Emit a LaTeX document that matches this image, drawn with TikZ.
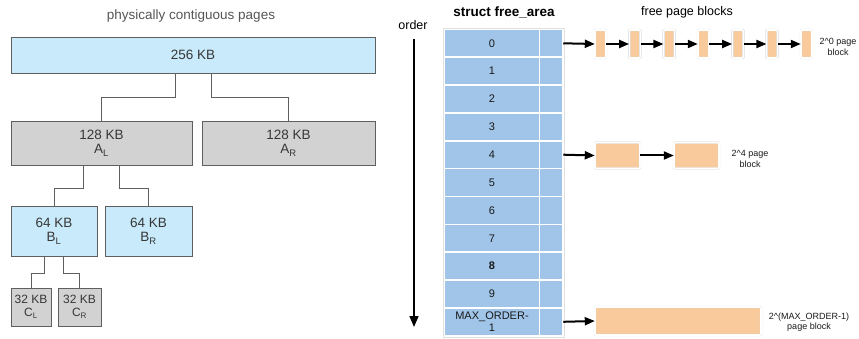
\documentclass[tikz,border=0pt]{standalone}
\usepackage{fontspec}
\setmainfont{Liberation Sans}
\usetikzlibrary{arrows.meta}
\definecolor{skyblue}{RGB}{200,234,250}
\definecolor{boxgray}{RGB}{210,210,210}
\definecolor{edgegray}{RGB}{95,95,95}
\definecolor{txtgray}{RGB}{55,55,55}
\definecolor{cellblue}{RGB}{160,197,232}
\definecolor{pageorange}{RGB}{249,203,156}
\begin{document}
\begin{tikzpicture}[x=1pt,y=-1pt,
    buddy/.style={draw=edgegray,line width=0.8pt,inner sep=0pt,align=center,text=txtgray,
      font=\fontsize{13.5}{14.5}\selectfont},
    link/.style={draw=edgegray,line width=0.8pt},
    cell/.style={fill=cellblue,draw=white,line width=1.5pt,inner sep=0pt,minimum height=27.85pt,
      align=center,text=black!90,font=\fontsize{11}{12.5}\selectfont},
    page/.style={fill=pageorange,draw=black!15,double=white,double distance=1.6pt,line width=0.4pt,
      rounded corners=1pt,inner sep=0pt},
    nextp/.style={line width=2pt,-{Triangle[length=10pt,width=8pt]}},
    note/.style={align=center,text=black!90,font=\fontsize{9}{10.5}\selectfont}]
    \useasboundingbox (0,0) rectangle (859,339);
    % buddy splitting
    \node[text=txtgray!85,font=\fontsize{13.5}{15}\selectfont] (pcp) at (191,16) {physically contiguous pages};
    \node[buddy,fill=skyblue,minimum width=364pt,minimum height=36pt] (root) at (193,55) {256 KB};
    \node[buddy,fill=boxgray,minimum width=181pt,minimum height=44pt] (AL) at (101.5,143) {128 KB\\A\textsubscript{L}};
    \node[buddy,fill=boxgray,minimum width=173pt,minimum height=44pt] (AR) at (288.5,143) {128 KB\\A\textsubscript{R}};
    \node[buddy,fill=skyblue,minimum width=86pt,minimum height=50pt] (BL) at (54,231) {64 KB\\B\textsubscript{L}};
    \node[buddy,fill=skyblue,minimum width=87pt,minimum height=50pt] (BR) at (148.5,231) {64 KB\\B\textsubscript{R}};
    \node[buddy,fill=boxgray,minimum width=40pt,minimum height=38pt,font=\fontsize{12}{13}\selectfont] (CL) at (31,307) {32 KB\\C\textsubscript{L}};
    \node[buddy,fill=boxgray,minimum width=43pt,minimum height=38pt,font=\fontsize{12}{13}\selectfont] (CR) at (79.5,307) {32 KB\\C\textsubscript{R}};
    \draw[link] ([xshift=-18pt]root.south) -- ++(0,24) -| (AL.north);
    \draw[link] ([xshift=18pt]root.south) -- ++(0,24) -| (AR.north);
    \draw[link] ([xshift=-18pt]AL.south) -- ++(0,23) -| (BL.north);
    \draw[link] ([xshift=18pt]AL.south) -- ++(0,23) -| (BR.north);
    \draw[link] ([xshift=-10pt]BL.south) -- ++(0,17) -| (CL.north);
    \draw[link] ([xshift=9pt]BL.south) -- ++(0,17) -| (CR.north);
    % free_area table
    \node[font=\bfseries\fontsize{13.5}{15}\selectfont] (sfa) at (504,12) {struct free\_area};
    \node[font=\fontsize{12.5}{14}\selectfont] (ord) at (413,25) {order};
    \coordinate (otop) at (414,39);
    \coordinate (obot) at (414,327);
    \draw[line width=1.6pt,-{Triangle[length=11pt,width=9pt]}] (otop) -- (obot);
    \foreach \lbl [count=\i from 0] in {0,1,2,3,4,5,6,7,\textbf{8},9,{MAX\_ORDER-\\1}} {
      \node[cell,minimum width=95pt] (k\i) at (492,43.3+27.85*\i) {\lbl};
      \node[cell,minimum width=23pt] (r\i) at (551,43.3+27.85*\i) {};
    }
    \draw[black!12,line width=0.5pt] ([shift={(-0.8pt,0.8pt)}]k0.north west) rectangle ([shift={(0.8pt,-0.8pt)}]r10.south east);
    % free page blocks
    \node[font=\fontsize{12.5}{14}\selectfont] (fpb) at (687,12) {free page blocks};
    \foreach \j in {0,...,6}
      \node[page,minimum width=11pt,minimum height=28pt] (p\j) at (600.5+34.33*\j,44) {};
    \draw[nextp] (r0.east) -- (p0.west);
    \foreach \j [count=\n from 1] in {0,...,5}
      \draw[nextp] (p\j.east) -- (p\n.west);
    \node[page,minimum width=45pt,minimum height=26pt] (q0) at (617.5,155.5) {};
    \node[page,minimum width=45pt,minimum height=26pt] (q1) at (696.5,155.5) {};
    \draw[nextp] (r4.east) -- (q0.west);
    \draw[nextp] (q0.east) -- (q1.west);
    \node[page,minimum width=166pt,minimum height=28pt] (m0) at (678,321) {};
    \draw[nextp] (r10.east) -- (m0.west);
    \node[note] (n0) at (838,47) {2\textasciicircum 0 page\\block};
    \node[note] (n4) at (750,159) {2\textasciicircum 4 page\\block};
    \node[note] (nm) at (809,322) {2\textasciicircum(MAX\_ORDER-1)\\page block};
  \end{tikzpicture}
\end{document}
